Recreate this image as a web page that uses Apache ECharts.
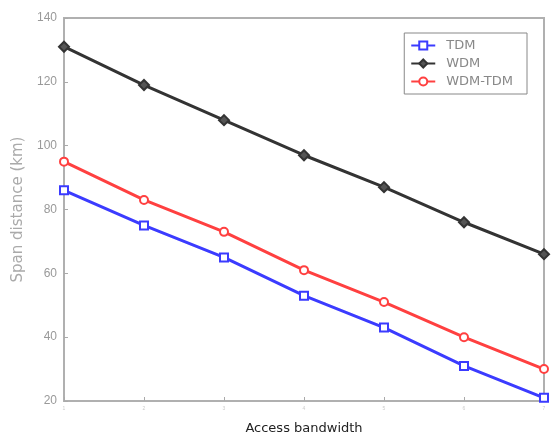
<!DOCTYPE html>
<html>
<head>
<meta charset="utf-8">
<script src="https://cdn.jsdelivr.net/npm/echarts@6/dist/echarts.min.js"></script>
<style>
  html, body { margin: 0; padding: 0; background: #fff; }
  #chart { width: 551px; height: 434px; }
</style>
</head>
<body>
<div id="chart"></div>
<script>
// categories on the x axis (labels are tiny/illegible in the source)
var bandwidth = ['1', '2', '3', '4', '5', '6', '7'];
var tdm = [86, 75, 65, 53, 43, 31, 21];
var wdm = [131, 119, 108, 97, 87, 76, 66];
var wdmTdm = [95, 83, 73, 61, 51, 40, 30];
var yTicks = [20, 40, 60, 80, 100, 120, 140];

var chart = echarts.init(document.getElementById('chart'));

var mkSeries = function(name, data, color, symbol, size, fill) {
  return {
    name: name,
    type: 'line',
    data: data,
    symbol: symbol,
    symbolSize: size,
    showAllSymbol: true,
    lineStyle: { color: color, width: 3 },
    itemStyle: { color: fill, borderColor: color, borderWidth: 2 },
    emphasis: { disabled: true }
  };
};

var option = {
  animation: false,
  backgroundColor: '#fff',
  grid: {
    left: 64, right: 7, top: 18, bottom: 33,
    outerBoundsMode: 'none',
    show: true,
    borderColor: '#b0b0b0',
    borderWidth: 2
  },
  legend: {
    right: 24, top: 33,
    orient: 'vertical',
    itemGap: 5,
    itemWidth: 24,
    itemHeight: 10,
    padding: [6, 14, 6, 6],
    borderColor: '#888',
    borderWidth: 1,
    backgroundColor: '#fff',
    textStyle: { color: '#888', fontSize: 13, fontFamily: 'DejaVu Sans', padding: [0, 0, 0, 6] },
    data: ['TDM', 'WDM', 'WDM-TDM']
  },
  xAxis: {
    type: 'category',
    boundaryGap: false,
    data: bandwidth,
    name: 'Access bandwidth',
    nameLocation: 'middle',
    nameGap: 21,
    nameTextStyle: { color: '#222', fontSize: 13, fontFamily: 'DejaVu Sans' },
    axisLine: { lineStyle: { color: '#b0b0b0', width: 2 } },
    axisTick: { inside: true, length: 4, lineStyle: { color: '#aaa' } },
    axisLabel: { color: '#ccc', fontSize: 5, margin: 5 },
    splitLine: { show: false }
  },
  yAxis: {
    type: 'value',
    min: 20, max: 140, interval: 20,
    name: 'Span distance (km)',
    nameLocation: 'middle',
    nameGap: 38,
    nameTextStyle: { color: '#aaa', fontSize: 15, fontFamily: 'DejaVu Sans' },
    axisLine: { show: true, lineStyle: { color: '#b0b0b0', width: 2 } },
    axisTick: { show: true, inside: true, length: 4, lineStyle: { color: '#aaa' } },
    axisLabel: { color: '#999', fontSize: 12, margin: 7, fontFamily: 'Liberation Sans' },
    splitLine: { show: false }
  },
  series: [
    mkSeries('TDM', tdm, '#3b3bff', 'rect', 8, '#fff'),
    mkSeries('WDM', wdm, '#333333', 'diamond', 10, '#555'),
    mkSeries('WDM-TDM', wdmTdm, '#ff4040', 'circle', 8, '#fff')
  ]
};
chart.setOption(option);
</script>
</body>
</html>
